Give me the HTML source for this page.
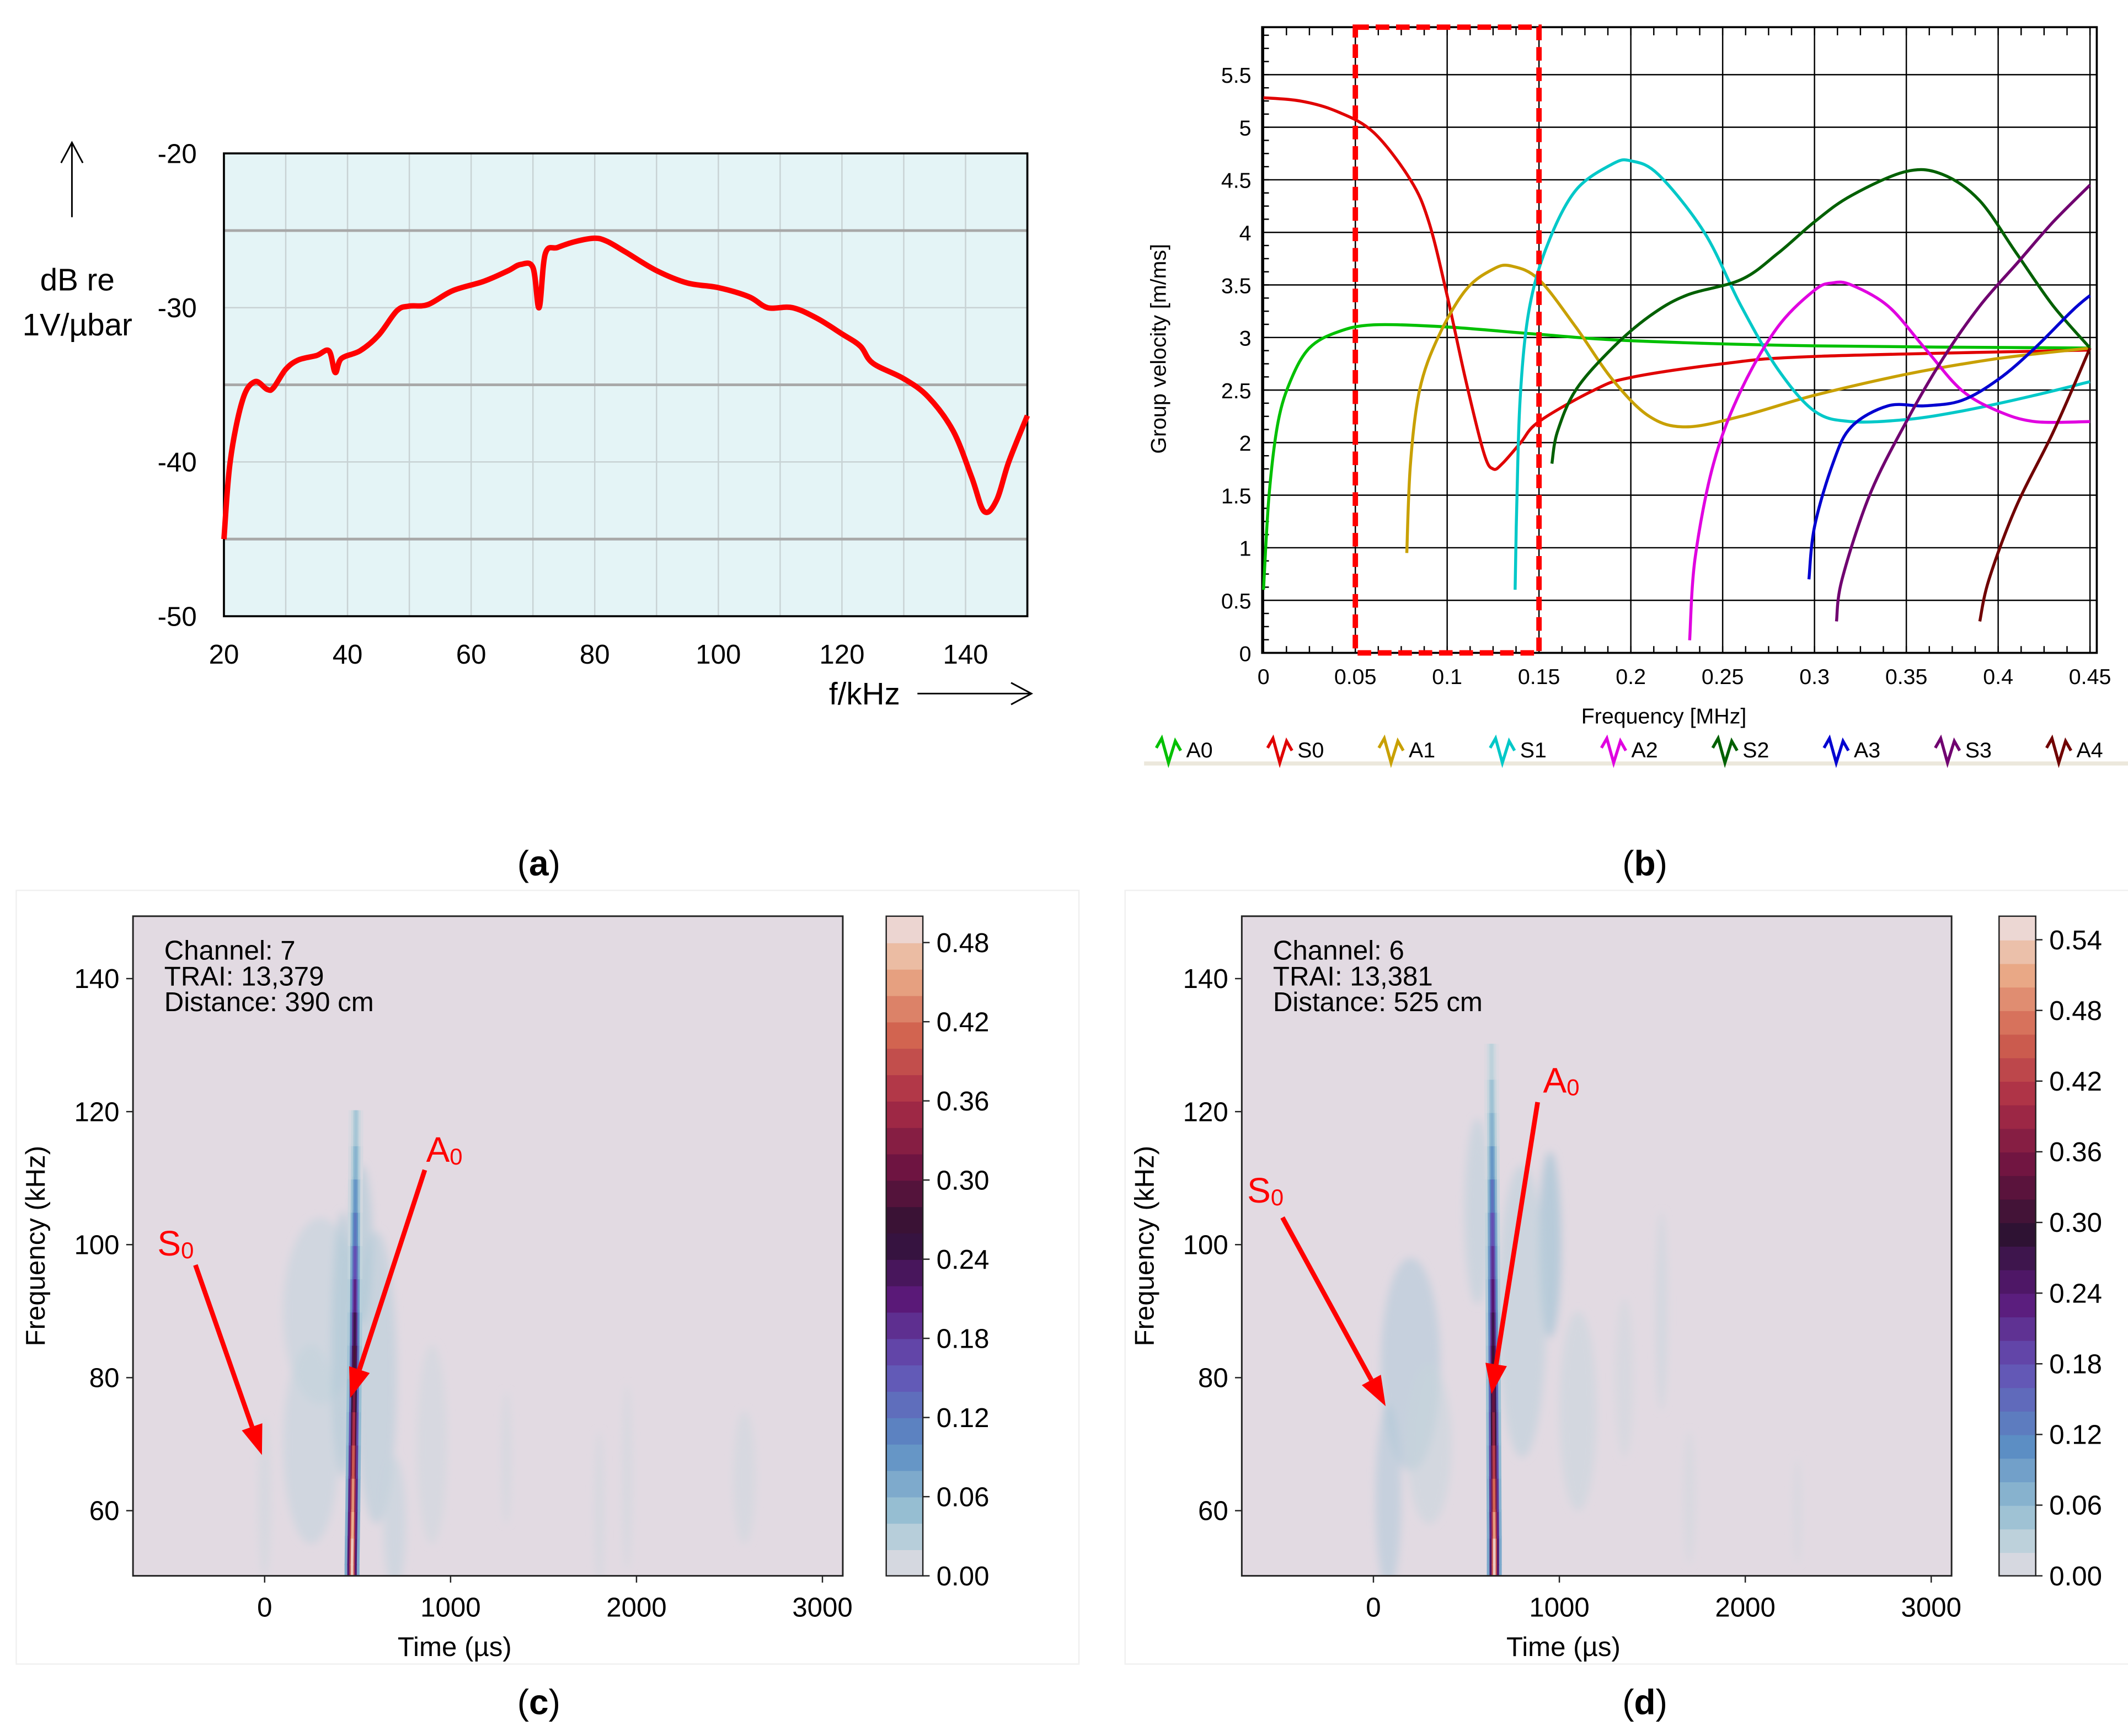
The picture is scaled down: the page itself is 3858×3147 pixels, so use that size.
<!DOCTYPE html>
<html><head><meta charset="utf-8"><style>
html,body{margin:0;padding:0;background:#fff;}
svg{display:block;}
text{font-family:"Liberation Sans",sans-serif;}
</style></head><body>
<svg id="root" xmlns="http://www.w3.org/2000/svg" width="3858" height="3147" viewBox="0 0 1568 1279">
<g id="pa"></g>
<g id="pb"></g>
<g id="pc"></g>
<g id="pd"></g>
<text x="397" y="645" text-anchor="middle" font-size="26" font-family="Liberation Serif,serif">(<tspan font-weight="bold">a</tspan>)</text>
<text x="1212" y="645" text-anchor="middle" font-size="26" font-family="Liberation Serif,serif">(<tspan font-weight="bold">b</tspan>)</text>
<text x="397" y="1263" text-anchor="middle" font-size="26" font-family="Liberation Serif,serif">(<tspan font-weight="bold">c</tspan>)</text>
<text x="1212" y="1263" text-anchor="middle" font-size="26" font-family="Liberation Serif,serif">(<tspan font-weight="bold">d</tspan>)</text>
</svg>
<script>
// ---------- Panel (a) data ----------
const aFreq = [20,21,23,25,27,28,30,32,35,37,38,39,42,45,48,50,53,57,62,66,68,70,71,72,74,77,80,82,85,90,95,100,105,108,112,116,120,123,125,130,134,138,141,143,145,147,150];
const aDb = [-45,-40,-36,-34.8,-35.3,-35.2,-34,-33.4,-33.1,-32.8,-34.2,-33.3,-32.8,-31.8,-30.2,-29.9,-29.8,-28.9,-28.3,-27.6,-27.2,-27.4,-30,-26.5,-26.1,-25.7,-25.5,-25.7,-26.4,-27.6,-28.4,-28.7,-29.3,-30,-30,-30.7,-31.7,-32.5,-33.6,-34.6,-35.8,-38,-41,-43.2,-42.5,-40,-37];
const aXTicks = [20,40,60,80,100,120,140];
const aYTicks = [-20,-30,-40,-50];

// ---------- Panel (b) data ----------
const bModes = ['A0','S0','A1','S1','A2','S2','A3','S3','A4'];
const bColors = ['#00c000','#e00000','#c8a000','#00c8c8','#e000e0','#006000','#0000d0','#700070','#700000'];
const bA0 = [[0,0.6],[0.003,1.5],[0.008,2.2],[0.015,2.6],[0.025,2.9],[0.04,3.05],[0.06,3.12],[0.1,3.1],[0.15,3.03],[0.2,2.97],[0.3,2.92],[0.45,2.9]];
const bS0 = [[0,5.28],[0.02,5.25],[0.04,5.15],[0.06,4.95],[0.08,4.5],[0.09,4.1],[0.1,3.4],[0.11,2.6],[0.12,1.9],[0.125,1.75],[0.13,1.8],[0.14,2.0],[0.15,2.2],[0.18,2.5],[0.2,2.62],[0.25,2.75],[0.3,2.82],[0.45,2.88]];
const bA1 = [[0.078,0.95],[0.08,1.8],[0.085,2.5],[0.095,3.0],[0.11,3.45],[0.125,3.65],[0.135,3.68],[0.15,3.55],[0.17,3.1],[0.19,2.6],[0.21,2.25],[0.23,2.15],[0.26,2.25],[0.3,2.45],[0.35,2.65],[0.4,2.8],[0.45,2.9]];
const bS1 = [[0.137,0.6],[0.138,1.5],[0.14,2.5],[0.145,3.3],[0.155,3.9],[0.17,4.4],[0.19,4.65],[0.2,4.68],[0.215,4.55],[0.24,4.0],[0.26,3.3],[0.28,2.7],[0.3,2.3],[0.32,2.2],[0.35,2.22],[0.38,2.3],[0.42,2.45],[0.45,2.58]];
const bA2 = [[0.232,0.12],[0.235,0.9],[0.245,1.8],[0.26,2.5],[0.28,3.1],[0.3,3.45],[0.31,3.52],[0.32,3.5],[0.34,3.3],[0.36,2.9],[0.38,2.5],[0.4,2.3],[0.42,2.2],[0.45,2.2]];
const bS2 = [[0.157,1.8],[0.16,2.1],[0.17,2.5],[0.19,2.9],[0.21,3.2],[0.23,3.4],[0.26,3.55],[0.28,3.8],[0.3,4.1],[0.32,4.35],[0.35,4.58],[0.37,4.55],[0.39,4.3],[0.41,3.8],[0.43,3.3],[0.45,2.9]];
const bA3 = [[0.297,0.7],[0.3,1.2],[0.31,1.8],[0.32,2.15],[0.34,2.35],[0.36,2.35],[0.38,2.4],[0.4,2.6],[0.42,2.9],[0.44,3.25],[0.45,3.4]];
const bS3 = [[0.312,0.3],[0.315,0.7],[0.33,1.5],[0.35,2.2],[0.37,2.8],[0.39,3.3],[0.41,3.7],[0.43,4.1],[0.45,4.45]];
const bA4 = [[0.39,0.3],[0.395,0.7],[0.41,1.4],[0.43,2.1],[0.45,2.9]];
const bXTicks = [0,0.05,0.1,0.15,0.2,0.25,0.3,0.35,0.4,0.45];
const bYTicks = [0,0.5,1,1.5,2,2.5,3,3.5,4,4.5,5,5.5];

// ---------- Panel (c)/(d) data: [time µs, freq kHz, half-width µs, half-height kHz, value] ----------
const cBlobs = [[300,90,200,14,0.03],[250,70,150,15,0.03],[600,80,110,22,0.04],[520,100,60,12,0.05],[420,85,60,20,0.05],[0,62,35,12,0.02],[1300,68,25,10,0.02],[1800,60,25,12,0.02],[1950,65,25,14,0.02],[2580,65,60,10,0.02],[900,70,80,15,0.02],[700,58,60,10,0.03]];
const cRidgeF = [52,56,60,65,70,75,80,85,90,95,100,105,110,115,120];
const cRidgeT = [470,472,474,476,478,480,482,484,485,486,487,488,489,490,491];
const cRidgeV = [0.48,0.46,0.44,0.4,0.36,0.32,0.28,0.24,0.2,0.16,0.12,0.09,0.06,0.04,0.02];
const cCbTicks = [0,0.06,0.12,0.18,0.24,0.30,0.36,0.42,0.48];
const dBlobs = [[200,82,160,16,0.05],[80,62,70,14,0.05],[950,100,60,14,0.07],[800,90,130,22,0.04],[1100,75,100,15,0.03],[1550,90,30,15,0.03],[1700,62,30,10,0.02],[2280,60,20,8,0.02],[560,105,70,14,0.04],[300,70,120,12,0.03],[1350,80,50,12,0.02]];
const dRidgeF = [52,56,60,65,70,75,80,85,90,95,100,105,110,115,120,125,130];
const dRidgeT = [650,650,649,648,647,646,645,644,643,642,641,640,639,638,637,636,635];
const dRidgeV = [0.54,0.5,0.46,0.42,0.38,0.34,0.3,0.27,0.24,0.21,0.18,0.14,0.1,0.07,0.05,0.03,0.02];
const dCbTicks = [0,0.06,0.12,0.18,0.24,0.30,0.36,0.42,0.48,0.54];

const NS='http://www.w3.org/2000/svg';
function mk(parent, tag, attrs, txt){const e=document.createElementNS(NS,tag);for(const k in attrs)e.setAttribute(k,attrs[k]);if(txt!==undefined)e.textContent=txt;parent.appendChild(e);return e;}
function smooth(pts){ // catmull-rom to bezier
 let d='M'+pts[0][0].toFixed(1)+','+pts[0][1].toFixed(1);
 for(let i=0;i<pts.length-1;i++){const p0=pts[Math.max(0,i-1)],p1=pts[i],p2=pts[i+1],p3=pts[Math.min(pts.length-1,i+2)];
  const c1=[p1[0]+(p2[0]-p0[0])/6,p1[1]+(p2[1]-p0[1])/6],c2=[p2[0]-(p3[0]-p1[0])/6,p2[1]-(p3[1]-p1[1])/6];
  d+=`C${c1[0].toFixed(1)},${c1[1].toFixed(1)} ${c2[0].toFixed(1)},${c2[1].toFixed(1)} ${p2[0].toFixed(1)},${p2[1].toFixed(1)}`;}
 return d;}

// ===== Panel (a) =====
(function(){
const g=document.getElementById('pa');
const X0=165,X1=757,Y0=113,Y1=454;
const xs=f=>X0+(f-20)/(150-20)*(X1-X0);
const ys=d=>Y0+(-20-d)/30*(Y1-Y0);
let r=mk(g,'rect',{x:X0,y:Y0,width:X1-X0,height:Y1-Y0,fill:'#e4f4f6'});


for(let f=30;f<150;f+=10){let l=mk(g,'line',{x1:xs(f),x2:xs(f),y1:Y0,y2:Y1,stroke:'#c8d2d4','stroke-width':1});}
for(let d=-25;d>-50;d-=5){let l=mk(g,'line',{x1:X0,x2:X1,y1:ys(d),y2:ys(d),stroke:(d%10===0)?'#c8d2d4':'#a8a8a8','stroke-width':(d%10===0)?1:2});}
mk(g,'rect',{x:X0,y:Y0,width:X1-X0,height:Y1-Y0,fill:'none',stroke:'#000','stroke-width':1.5});
aXTicks.forEach(t=>{let e=mk(g,'text',{x:xs(t),y:Y1+35,'text-anchor':'middle','font-size':20},String(t));});
aYTicks.forEach(t=>{let e=mk(g,'text',{x:X0-20,y:ys(t)+7,'text-anchor':'end','font-size':20},String(t));});
let p=mk(g,'path',{d:smooth(aFreq.map((f,i)=>[xs(f),ys(aDb[i])])),fill:'none',stroke:'#ff0000','stroke-width':4,'stroke-linejoin':'round'});

let yl=mk(g,'text',{x:57,y:214,'text-anchor':'middle','font-size':23},'dB re');
let yl2=mk(g,'text',{x:57,y:247,'text-anchor':'middle','font-size':23},'1V/µbar');
mk(g,'line',{x1:53,x2:53,y1:105,y2:160,stroke:'#000','stroke-width':1.2});
mk(g,'path',{d:'M45,120 L53,105 L61,120',fill:'none',stroke:'#000','stroke-width':1.2});
let xl=mk(g,'text',{x:637,y:519,'text-anchor':'middle','font-size':23},'f/kHz');
mk(g,'line',{x1:676,x2:760,y1:511,y2:511,stroke:'#000','stroke-width':1.2});
mk(g,'path',{d:'M745,503 L760,511 L745,519',fill:'none',stroke:'#000','stroke-width':1.2});
})();

// ===== Panel (b) =====
(function(){
const g=document.getElementById('pb');
const X0=930,X1=1545,Y0=20,Y1=481;
const xs=f=>931+f/0.45*(1540-931);
const ys=v=>481-v/5.5*(481-55);
mk(g,'rect',{x:X0,y:Y0,width:X1-X0,height:Y1-Y0,fill:'#fff'});
bXTicks.forEach(t=>{mk(g,'line',{x1:xs(t),x2:xs(t),y1:Y0,y2:Y1,stroke:'#000','stroke-width':1});
 let e=mk(g,'text',{x:xs(t),y:Y1+23,'text-anchor':'middle','font-size':16},String(t));});
bYTicks.forEach(t=>{mk(g,'line',{x1:X0,x2:X1,y1:ys(t),y2:ys(t),stroke:'#000','stroke-width':1});
 let e=mk(g,'text',{x:X0-8,y:ys(t)+6,'text-anchor':'end','font-size':16},String(t));});
for(let f=0;f<=0.455;f+=0.0125){mk(g,'line',{x1:xs(f),x2:xs(f),y1:Y0,y2:Y0+6,stroke:'#000','stroke-width':1});mk(g,'line',{x1:xs(f),x2:xs(f),y1:Y1,y2:Y1-5,stroke:'#000','stroke-width':1});}
for(let v=0;v<=5.9;v+=0.125){mk(g,'line',{x1:X0,x2:X0+5,y1:ys(v),y2:ys(v),stroke:'#000','stroke-width':1});}
mk(g,'rect',{x:X0,y:Y0,width:X1-X0,height:Y1-Y0,fill:'none',stroke:'#000','stroke-width':1.5});
const series=[bA0,bS0,bA1,bS1,bA2,bS2,bA3,bS3,bA4];
series.forEach((s,i)=>{let p=mk(g,'path',{d:smooth(s.map(pt=>[xs(pt[0]),ys(pt[1])])),fill:'none',stroke:bColors[i],'stroke-width':2.2,'stroke-linejoin':'round'});
 });
let box=mk(g,'rect',{x:xs(0.05),y:Y0,width:xs(0.15)-xs(0.05),height:Y1-Y0,fill:'none',stroke:'#ff0000','stroke-width':4,'stroke-dasharray':'10,5'});

let yl=mk(g,'text',{x:0,y:0,'text-anchor':'middle','font-size':16,transform:'translate(859,257) rotate(-90)'},'Group velocity [m/ms]');
let xl=mk(g,'text',{x:1226,y:533,'text-anchor':'middle','font-size':16},'Frequency [MHz]');
mk(g,'rect',{x:843,y:561,width:725,height:3,fill:'#ece8dc'});
bModes.forEach((m,i)=>{const lx=852+i*82;
 const le=mk(g,'g',{});
 mk(le,'path',{d:`M${lx},${551} L${lx+4},${544} L${lx+9},${562} L${lx+14},${546} L${lx+18},${553}`,fill:'none',stroke:bColors[i],'stroke-width':2.2});
 mk(le,'text',{x:lx+22,y:558,'font-size':16},m);});
})();

// ===== Spectrogram panels =====
function cmap(v,vmax){
 const stops=[[0,[226,218,226]],[0.04,[200,214,222]],[0.1,[150,190,210]],[0.2,[90,140,195]],[0.32,[100,80,180]],[0.42,[90,25,120]],[0.52,[45,18,50]],[0.62,[110,20,65]],[0.72,[170,45,70]],[0.82,[210,100,80]],[0.92,[235,175,140]],[1,[236,226,232]]];
 let t=Math.max(0,Math.min(1,v/vmax));
 for(let i=1;i<stops.length;i++){if(t<=stops[i][0]){const a=stops[i-1],b=stops[i];const u=(t-a[0])/(b[0]-a[0]);
  const c=a[1].map((x,k)=>Math.round(x+(b[1][k]-x)*u));return `rgb(${c[0]},${c[1]},${c[2]})`;}}
 return 'rgb(236,226,232)';
}
function spectro(id,X0,X1,t0x,cbX,vmax,blobs,rF,rT,rV,cbTicks,info,ann){
 const g=document.getElementById(id);
 const Y0=675,Y1=1161;
 const xs=t=>t0x+t*0.137;
 const ys=f=>1113-(f-60)*4.9;
 const cid=id+'clip';
 const defs=mk(g,'defs',{});const cp=mk(defs,'clipPath',{id:cid});mk(cp,'rect',{x:X0,y:Y0,width:X1-X0,height:Y1-Y0});
 const fid=id+'blur';const fl=mk(defs,'filter',{id:fid,x:'-50%',y:'-50%',width:'200%',height:'200%'});mk(fl,'feGaussianBlur',{stdDeviation:3});
 mk(g,'rect',{x:X0-86,y:656,width:X1-X0+260,height:570,fill:'none',stroke:'#f0f0f0','stroke-width':1});
 let bg=mk(g,'rect',{x:X0,y:Y0,width:X1-X0,height:Y1-Y0,fill:cmap(0,vmax)});
 const inner=mk(g,'g',{'clip-path':`url(#${cid})`});
 const bl=mk(inner,'g',{filter:`url(#${fid})`});
 blobs.forEach(b=>{let e=mk(bl,'ellipse',{cx:xs(b[0]),cy:ys(b[1]),rx:b[2]*0.137,ry:b[3]*4.9,fill:cmap(b[4]*0.8,vmax),opacity:0.55});});
 // ridge layers
 const w=[11,7,4,2];const k=[0.15,0.45,0.8,1];
 w.forEach((ww,j)=>{
  for(let i=0;i<rF.length-1;i++){
   let e=mk(inner,'line',{x1:xs(rT[i]),y1:ys(rF[i])+1,x2:xs(rT[i+1]),y2:ys(rF[i+1])-1,stroke:cmap(rV[i]*k[j],vmax),'stroke-width':ww,'stroke-linecap':'butt'});
   
  }
  mk(inner,'line',{x1:xs(rT[0]),y1:ys(rF[0]),x2:xs(rT[0]),y2:Y1+5,stroke:cmap(rV[0]*k[j],vmax),'stroke-width':ww});
 });
 mk(g,'rect',{x:X0,y:Y0,width:X1-X0,height:Y1-Y0,fill:'none',stroke:'#222','stroke-width':1.2});
 [0,1000,2000,3000].forEach(t=>{mk(g,'line',{x1:xs(t),x2:xs(t),y1:Y1,y2:Y1+5,stroke:'#222'});
  let e=mk(g,'text',{x:xs(t),y:Y1+30,'text-anchor':'middle','font-size':20},String(t));});
 [60,80,100,120,140].forEach(f=>{mk(g,'line',{x1:X0-5,x2:X0,y1:ys(f),y2:ys(f),stroke:'#222'});
  let e=mk(g,'text',{x:X0-10,y:ys(f)+7,'text-anchor':'end','font-size':20},String(f));});
 let xl=mk(g,'text',{x:xs(1000)+3,y:1220,'text-anchor':'middle','font-size':20},'Time (µs)');
 let yl=mk(g,'text',{x:0,y:0,'text-anchor':'middle','font-size':20,transform:`translate(${X0-65},918) rotate(-90)`},'Frequency (kHz)');
 info.forEach((s,i)=>{let e=mk(g,'text',{x:X0+23,y:707+i*19,'font-size':20},s);});
 // colorbar
 const cbTop=675,cbBot=1161,cbMax=cbTicks[cbTicks.length-1]+0.02;
 const cby=v=>cbBot-v/cbMax*(cbBot-cbTop);
 const n=Math.round(cbMax/0.02);
 for(let i=0;i<n;i++){const v0=i*0.02;let r=mk(g,'rect',{x:cbX,y:cby(v0+0.02),width:27,height:cby(v0)-cby(v0+0.02)+0.5,fill:cmap(v0+0.01,vmax)});}
 mk(g,'rect',{x:cbX,y:cbTop,width:27,height:cbBot-cbTop,fill:'none',stroke:'#222','stroke-width':1});
 cbTicks.forEach(t=>{mk(g,'line',{x1:cbX+27,x2:cbX+32,y1:cby(t),y2:cby(t),stroke:'#222'});
  let e=mk(g,'text',{x:cbX+37,y:cby(t)+7,'font-size':20},t.toFixed(2));});
 // annotations
 ann.forEach(a=>{
  const ag=mk(g,'g',{});
  const t=mk(ag,'text',{x:a.tx,y:a.ty,'font-size':26,fill:'#ff0000'});t.textContent=a.n[0];mk(t,'tspan',{'font-size':17,dy:2},a.n[1]);
  const dx=a.x2-a.x1,dy=a.y2-a.y1,L=Math.hypot(dx,dy),ux=dx/L,uy=dy/L;
  const hx=a.x2-ux*22,hy=a.y2-uy*22;
  mk(ag,'line',{x1:a.x1,y1:a.y1,x2:hx,y2:hy,stroke:'#ff0000','stroke-width':3.5});
  mk(ag,'polygon',{points:`${a.x2},${a.y2} ${hx-uy*8},${hy+ux*8} ${hx+uy*8},${hy-ux*8}`,fill:'#ff0000'});
 });
}
spectro('pc',98,621,195,653,0.5,cBlobs,cRidgeF,cRidgeT,cRidgeV,cCbTicks,['Channel: 7','TRAI: 13,379','Distance: 390 cm'],
 [{n:'S0',tx:116,ty:925,x1:144,y1:932,x2:193,y2:1072},{n:'A0',tx:314,ty:856,x1:313,y1:862,x2:258,y2:1030}]);
spectro('pd',915,1438,1012,1473,0.56,dBlobs,dRidgeF,dRidgeT,dRidgeV,dCbTicks,['Channel: 6','TRAI: 13,381','Distance: 525 cm'],
 [{n:'S0',tx:919,ty:886,x1:945,y1:897,x2:1021,y2:1036},{n:'A0',tx:1137,ty:805,x1:1133,y1:812,x2:1099,y2:1027}]);
</script>
</body></html>
